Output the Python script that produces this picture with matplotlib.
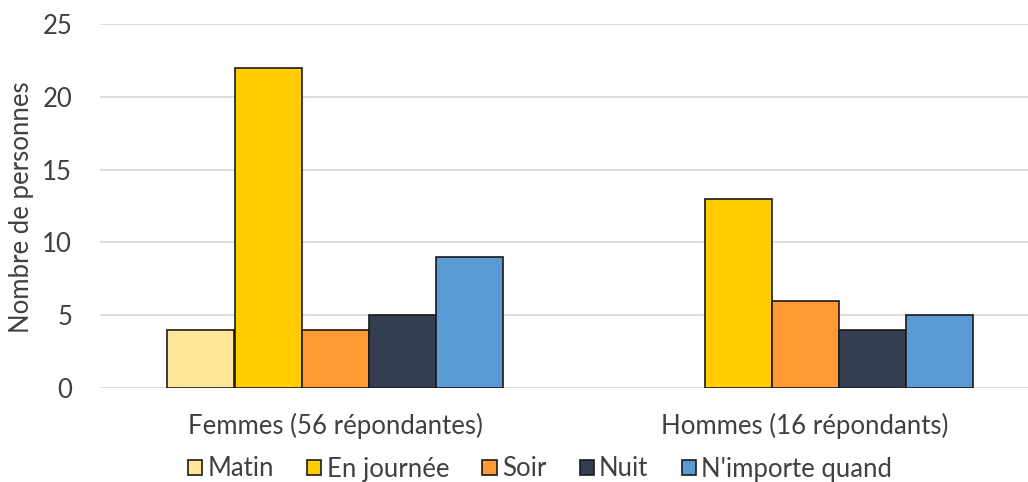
import numpy as np
import matplotlib.pyplot as plt

# Nombre de personnes selon le moment préféré
groupes = ["Femmes (56 répondantes)", "Hommes (16 répondants)"]
moments = ["Matin", "En journée", "Soir", "Nuit", "N'importe quand"]
matin = [4, 0]
en_journee = [22, 13]
soir = [4, 6]
nuit = [5, 4]
importe_quand = [9, 5]

couleurs = ["#FFE699", "#FFCC00", "#FF9933", "#333F50", "#5B9BD5"]
series = [matin, en_journee, soir, nuit, importe_quand]

plt.rcParams['font.family'] = ['Lato', 'DejaVu Sans']
taille = 18.5

fig = plt.figure(figsize=(10.28, 4.82), dpi=100)
ax = fig.add_axes([100 / 1028, 94 / 482, 940 / 1028, 364 / 482])

x = np.arange(len(groupes))
largeur = 67 / 470
for i, (nom, vals) in enumerate(zip(moments, series)):
    pos = x + (i - 2) * largeur
    # pas de contour pour les barres nulles
    bords = ["#1a1a1a" if v > 0 else "none" for v in vals]
    ax.bar(pos, vals, width=largeur, color=couleurs[i], edgecolor=bords,
           linewidth=1.2, zorder=3)
    ax.bar([np.nan], [np.nan], color=couleurs[i], edgecolor="#1a1a1a",
           linewidth=1.2, label=nom)

ax.set_xlim(-0.5, 1.5)
ax.set_ylim(0, 25)
ax.set_yticks(np.arange(0, 26, 5))
ax.set_xticks(x)
ax.set_xticklabels(groupes, fontsize=taille, color="#404040")
ax.tick_params(axis="y", labelsize=taille, labelcolor="#404040", length=0, pad=20)
ax.tick_params(axis="x", length=0, pad=18)
ax.grid(axis="y", color="#d9d9d9", linewidth=1.3, zorder=0)
for s in ax.spines.values():
    s.set_visible(False)

fig.text(22 / 1028, 275 / 482, "Nombre de personnes", rotation=90, fontsize=taille,
         color="#404040", ha="center", va="center")

fig.legend(loc="center", bbox_to_anchor=(540 / 1028, 13 / 482), ncol=5, frameon=False,
           fontsize=taille, handlelength=0.55, handleheight=0.55, handletextpad=0.2,
           columnspacing=1.3, labelcolor="#404040")

fig.savefig("out.png", dpi=100)
